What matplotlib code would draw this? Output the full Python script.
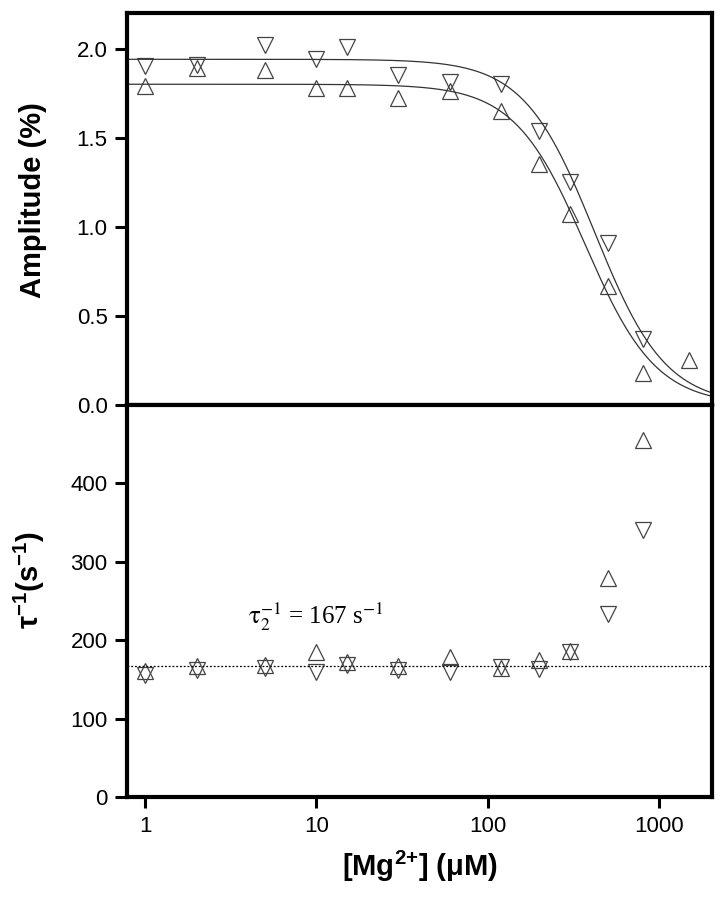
import numpy as np
import matplotlib
matplotlib.use("Agg")
import matplotlib.pyplot as plt

# Mg2+ concentrations (uM)
mg = [1, 2, 5, 10, 15, 30, 60, 120, 200, 300, 500, 800, 1500]

# amplitude (%) - down triangles / up triangles
amp_down = [1.90, 1.91, 2.02, 1.94, 2.01, 1.85, 1.81, 1.80, 1.54, 1.25, 0.91, 0.37, None]
amp_up = [1.79, 1.89, 1.88, 1.78, 1.78, 1.72, 1.76, 1.65, 1.35, 1.07, 0.67, 0.18, 0.25]

# rate tau^-1 (s^-1), no point at 1500
rate_up = [161, 167, 169, 185, 172, 167, 179, 164, 175, 186, 279, 455]
rate_down = [155, 162, 164, 159, 168, 162, 159, 166, 163, 185, 233, 340]
tau2 = 167

# Hill fit parameters (plateau, K, n)
fit_down = (1.94, 420, 2.1)
fit_up = (1.80, 370, 2.1)

plt.rcParams['font.family'] = ['Liberation Sans', 'DejaVu Sans']
plt.rcParams['mathtext.fontset'] = 'custom'
plt.rcParams['mathtext.rm'] = 'Liberation Sans:bold'
plt.rcParams['mathtext.bf'] = 'Liberation Sans:bold'

fig = plt.figure(figsize=(7.26, 9.06), dpi=100)
ax1 = fig.add_axes([0.175, 0.553, 0.806, 0.4327])
ax2 = fig.add_axes([0.175, 0.1203, 0.806, 0.4327], sharex=ax1)

mk = dict(linestyle='none', markersize=12, markerfacecolor='none',
          markeredgecolor='#444444', markeredgewidth=0.9)

xd = [x for x, v in zip(mg, amp_down) if v is not None]
yd = [v for v in amp_down if v is not None]
ax1.plot(xd, yd, marker='v', **mk)
ax1.plot(mg, amp_up, marker='^', **mk)

xx = np.logspace(np.log10(0.7), np.log10(2500), 400)
for A, K, n in (fit_down, fit_up):
    ax1.plot(xx, A / (1 + (xx / K) ** n), color='#333333', lw=0.9)

ax2.plot(mg[:len(rate_up)], rate_up, marker='^', **mk)
ax2.plot(mg[:len(rate_down)], rate_down, marker='v', **mk)
ax2.axhline(tau2, color='black', lw=0.9, linestyle=(0, (1.5, 1.5)))

ax2.text(4.0, 221, r'$\mathrm{\tau}_2^{-1}$ = 167 s$^{-1}$',
         family='Liberation Serif', math_fontfamily='stix', fontsize=18,
         ha='left', va='baseline')

ax1.set_xscale('log')
ax1.set_xlim(0.785, 2040)
ax1.set_ylim(0, 2.2)
ax2.set_ylim(0, 500)

ax1.set_yticks([0.0, 0.5, 1.0, 1.5, 2.0])
ax1.set_yticklabels(['0.0', '0.5', '1.0', '1.5', '2.0'])
ax2.set_yticks([0, 100, 200, 300, 400])
ax2.set_xticks([1, 10, 100, 1000])
ax2.set_xticklabels(['1', '10', '100', '1000'])
ax2.xaxis.set_minor_locator(matplotlib.ticker.NullLocator())

for ax in (ax1, ax2):
    for s in ax.spines.values():
        s.set_linewidth(3.0)
    ax.tick_params(axis='y', direction='out', length=9, width=2.2,
                   labelsize=16, pad=5, right=False)
    ax.tick_params(axis='x', which='both', direction='out', length=8,
                   width=2.2, labelsize=16, pad=6, top=False)
ax1.tick_params(axis='x', which='both', bottom=False, labelbottom=False)

ax1.set_ylabel('Amplitude (%)', fontsize=21, fontweight='bold')
ax2.set_ylabel(r'$\mathbf{\tau^{-1}}$(s$^\mathbf{-1}$)', fontsize=21,
               fontweight='bold')
ax1.yaxis.set_label_coords(-0.137, 0.523)
ax2.yaxis.set_label_coords(-0.137, 0.553)
ax2.set_xlabel(r'[Mg$^\mathbf{2{+}}$] ($\mathbf{\mu}$M)', fontsize=21,
               fontweight='bold', labelpad=8)

fig.savefig('out.png', dpi=100, facecolor='white')
